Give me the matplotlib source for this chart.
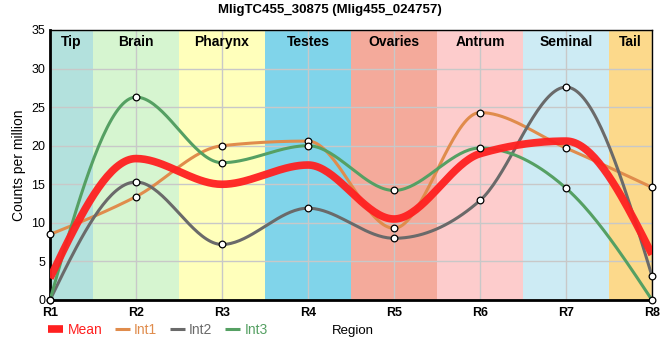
import numpy as np
import matplotlib.pyplot as plt
from matplotlib.lines import Line2D

plt.rcParams["font.family"] = ["Liberation Sans", "DejaVu Sans"]

# data
regions = ["R1", "R2", "R3", "R4", "R5", "R6", "R7", "R8"]
int1 = [8.5, 13.4, 20.0, 20.6, 9.3, 24.3, 19.7, 14.6]
int2 = [0.0, 15.3, 7.2, 11.9, 8.0, 12.9, 27.6, 3.1]
int3 = [0.0, 26.3, 17.8, 20.0, 14.2, 19.7, 14.5, 0.0]
mean = list(np.mean([int1, int2, int3], axis=0))

band_names = ["Tip", "Brain", "Pharynx", "Testes", "Ovaries", "Antrum", "Seminal", "Tail"]
band_colors = ["#b3e1dd", "#d6f5d0", "#ffffbb", "#80d4ea", "#f4aa9b", "#fdcccc", "#cdebf4", "#fcd98b"]


def monotone(x, y, n=40):
    # monotone cubic (like d3.curveMonotoneX) for the smoothed lines
    x = np.asarray(x, float)
    y = np.asarray(y, float)
    h = np.diff(x)
    s = np.diff(y) / h
    m = np.zeros(len(x))
    for k in range(1, len(x) - 1):
        p = (s[k - 1] * h[k] + s[k] * h[k - 1]) / (h[k - 1] + h[k])
        m[k] = (np.sign(s[k - 1]) + np.sign(s[k])) * min(abs(s[k - 1]), abs(s[k]), 0.5 * abs(p))
    m[0] = (3 * s[0] - m[1]) / 2
    m[-1] = (3 * s[-1] - m[-2]) / 2
    xs, ys = [], []
    for k in range(len(x) - 1):
        t = np.linspace(0, 1, n)
        h00 = 2 * t**3 - 3 * t**2 + 1
        h10 = t**3 - 2 * t**2 + t
        h01 = -2 * t**3 + 3 * t**2
        h11 = t**3 - t**2
        xs.append(x[k] + t * h[k])
        ys.append(h00 * y[k] + h10 * h[k] * m[k] + h01 * y[k + 1] + h11 * h[k] * m[k + 1])
    return np.concatenate(xs), np.concatenate(ys)


fig = plt.figure(figsize=(6.6, 3.6), dpi=100)
ax = fig.add_axes([50 / 660, 60 / 360, 602 / 660, 270 / 360])
x = np.arange(1, len(regions) + 1)

for i, (name, c) in enumerate(zip(band_names, band_colors)):
    lo, hi = max(1, x[i] - 0.5), min(8, x[i] + 0.5)
    ax.axvspan(lo, hi, color=c, lw=0, zorder=0)
    ax.text((lo + hi) / 2, 34.3, name, ha="center", va="top", fontsize=10,
            fontweight="bold", zorder=5)

ax.grid(True, color="#c8c8c8", lw=1, zorder=1)
ax.set_axisbelow(True)

series = [
    ("Int1", int1, "#e08c4c"),
    ("Int2", int2, "#6a6a6a"),
    ("Int3", int3, "#55a063"),
]
for name, vals, c in series:
    sx, sy = monotone(x, vals)
    ax.plot(sx, sy, color=c, lw=2.2, zorder=3, solid_capstyle="butt")
mx, my = monotone(x, mean)
ax.plot(mx, my, color="#ff2020", lw=5.5, alpha=0.95, zorder=4, solid_capstyle="butt")
for name, vals, c in series:
    ax.plot(x, vals, ls="none", marker="o", ms=4.8, mfc="white", mec="black",
            mew=0.9, zorder=6, clip_on=False)

ax.set_xlim(1, 8)
ax.set_ylim(0, 35)
ax.set_yticks(range(0, 36, 5))
ax.set_xticks(x)
ax.set_xticklabels(regions, fontweight="bold")
ax.tick_params(axis="both", length=0, labelsize=9)
ax.tick_params(axis="x", pad=5)
for side in ["left", "bottom"]:
    ax.spines[side].set_linewidth(2)
for side in ["top", "right"]:
    ax.spines[side].set_linewidth(1)
ax.set_ylabel("Counts per million", fontsize=10)
fig.suptitle("MligTC455_30875 (Mlig455_024757)", fontsize=9.5, fontweight="bold", y=0.99)

handles = [Line2D([], [], color="#ff2020", lw=5.5, solid_capstyle="butt")] + \
    [Line2D([], [], color=c, lw=2.2, solid_capstyle="butt") for _, _, c in series]
leg = fig.legend(handles, ["Mean", "Int1", "Int2", "Int3"], loc="center left",
                 bbox_to_anchor=(48 / 660, 1 - 330 / 360), ncol=4, frameon=False,
                 fontsize=10, handlelength=1.1, handletextpad=0.3, columnspacing=0.9,
                 borderaxespad=0, borderpad=0, labelcolor="linecolor")
fig.text(332 / 660, 1 - 331 / 360, "Region", fontsize=9.5, va="center")

fig.savefig("out.png", dpi=100)
